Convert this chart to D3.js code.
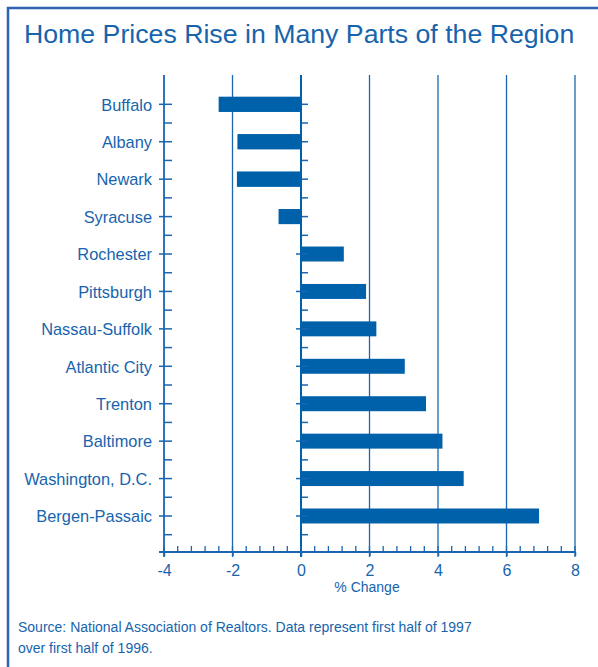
<!DOCTYPE html>
<html>
<head>
<meta charset="utf-8">
<script src="https://cdn.jsdelivr.net/npm/d3@7"></script>
<style>
    body { margin: 0; background: #fff; }
    text { font-family: "Liberation Sans", Arial, sans-serif; fill: #1764ad; }
</style>
</head>
<body>
<svg width="598" height="667"></svg>
<script>
// data
let cities = [
    'Buffalo', 'Albany', 'Newark', 'Syracuse', 'Rochester', 'Pittsburgh',
    'Nassau-Suffolk', 'Atlantic City', 'Trenton', 'Baltimore',
    'Washington, D.C.', 'Bergen-Passaic'
];
let changes = [-2.4, -1.85, -1.87, -0.65, 1.25, 1.9, 2.2, 3.03, 3.65, 4.13, 4.75, 6.95];
let xTicks = [-4, -2, 0, 2, 4, 6, 8];
let gridValues = [-2, 2, 4, 6, 8];

function main() {
    let svg = d3.select('svg');
    let blue = '#0061ab',
        lineBlue = '#1a66b0';

    let data = cities.map((c, i) => ({ city: c, value: changes[i] }));

    //Scales
    let xScale = d3.scaleLinear().domain([-4, 8]).range([164, 575]),
        yScale = d3
            .scaleBand()
            .domain(cities)
            .range([85.6, 534.7])
            .paddingInner(0.6)
            .paddingOuter(0.3);
    let plotTop = 75,
        axisY = 552;

    //Frame
    svg.append('path')
        .attr('d', 'M8,667 L8,8 L598,8')
        .attr('fill', 'none')
        .attr('stroke', '#2f62b2')
        .attr('stroke-width', 2.5);

    //Title
    svg.append('text')
        .attr('x', 24)
        .attr('y', 43)
        .style('font-size', '26.7px')
        .text('Home Prices Rise in Many Parts of the Region');

    //Gridlines
    svg.append('g')
        .selectAll('line')
        .data(gridValues)
        .enter()
        .append('line')
        .attr('x1', (d) => xScale(d))
        .attr('x2', (d) => xScale(d))
        .attr('y1', plotTop)
        .attr('y2', axisY + 5)
        .attr('stroke', lineBlue)
        .attr('stroke-width', 1.3);

    //Bars
    svg.selectAll('rect.bar')
        .data(data)
        .enter()
        .append('rect')
        .attr('class', 'bar')
        .attr('x', (d) => xScale(Math.min(0, d.value)))
        .attr('y', (d) => yScale(d.city))
        .attr('width', (d) => Math.abs(xScale(d.value) - xScale(0)))
        .attr('height', yScale.bandwidth())
        .attr('fill', blue);

    //Ticks along the zero line
    let zero = xScale(0);
    let bounds = d3.range(1, cities.length + 1).map(
        (i) => yScale.range()[0] + i * yScale.step()
    );
    let zg = svg.append('g').attr('stroke', lineBlue).attr('stroke-width', 1.5);
    zg.selectAll('line.maj')
        .data(cities)
        .enter()
        .append('line')
        .attr('x1', zero - 5)
        .attr('x2', zero + 7)
        .attr('y1', (d) => yScale(d) + yScale.bandwidth() / 2)
        .attr('y2', (d) => yScale(d) + yScale.bandwidth() / 2);
    zg.selectAll('line.min')
        .data(bounds)
        .enter()
        .append('line')
        .attr('x1', zero)
        .attr('x2', zero + 7)
        .attr('y1', (d) => d)
        .attr('y2', (d) => d);
    svg.append('line')
        .attr('x1', zero)
        .attr('x2', zero)
        .attr('y1', plotTop)
        .attr('y2', axisY + 5)
        .attr('stroke', blue)
        .attr('stroke-width', 2);
    // negative bars again, over the left tick stubs
    svg.selectAll('rect.neg')
        .data(data.filter((d) => d.value < 0))
        .enter()
        .append('rect')
        .attr('x', (d) => xScale(d.value))
        .attr('y', (d) => yScale(d.city))
        .attr('width', (d) => xScale(0) - xScale(d.value))
        .attr('height', yScale.bandwidth())
        .attr('fill', blue);

    //Y Axis
    let yAxis = svg.append('g')
        .attr('transform', 'translate(' + xScale(-4) + ',0)')
        .call(d3.axisLeft(yScale).tickSize(5).tickPadding(7));
    yAxis.select('.domain').remove();
    yAxis.selectAll('.tick line')
        .attr('x2', 8)
        .attr('x1', -5)
        .attr('stroke', lineBlue)
        .attr('stroke-width', 1.5);
    yAxis.selectAll('.tick text')
        .attr('dy', '0.38em')
        .style('font-size', '16.4px')
        .style('font-family', '"Liberation Sans", Arial, sans-serif')
        .attr('fill', '#1764ad');
    yAxis.selectAll('line.min')
        .data(bounds)
        .enter()
        .append('line')
        .attr('x1', 0)
        .attr('x2', 8)
        .attr('y1', (d) => d)
        .attr('y2', (d) => d)
        .attr('stroke', lineBlue)
        .attr('stroke-width', 1.5);
    yAxis.append('line')
        .attr('x1', 0)
        .attr('x2', 0)
        .attr('y1', plotTop)
        .attr('y2', axisY + 5)
        .attr('stroke', lineBlue)
        .attr('stroke-width', 1.8);

    //X Axis
    let xAxis = svg.append('g')
        .attr('transform', 'translate(0,' + axisY + ')')
        .call(
            d3.axisBottom(xScale)
                .tickValues(xTicks)
                .tickSize(4)
                .tickPadding(9)
                .tickFormat((d) => String(d))
        );
    xAxis.select('.domain').remove();
    xAxis.selectAll('.tick line').attr('stroke', lineBlue).attr('stroke-width', 1.5);
    xAxis.selectAll('.tick text')
        .style('font-size', '16px')
        .style('font-family', '"Liberation Sans", Arial, sans-serif')
        .attr('fill', '#1764ad');
    xAxis.append('line')
        .attr('x1', xScale(-4) - 5)
        .attr('x2', xScale(8))
        .attr('y1', 0)
        .attr('y2', 0)
        .attr('stroke', lineBlue)
        .attr('stroke-width', 2);
    xAxis.selectAll('line.minor')
        .data(d3.range(-4, 8.001, 0.4))
        .enter()
        .append('line')
        .attr('x1', (d) => xScale(d))
        .attr('x2', (d) => xScale(d))
        .attr('y1', 0)
        .attr('y2', -6)
        .attr('stroke', lineBlue)
        .attr('stroke-width', 1.3);
    svg.append('text')
        .attr('x', 367)
        .attr('y', 592)
        .attr('text-anchor', 'middle')
        .style('font-size', '14px')
        .text('% Change');

    //Source
    svg.append('text')
        .attr('x', 18)
        .attr('y', 632)
        .style('font-size', '14px')
        .text('Source: National Association of Realtors. Data represent first half of 1997');
    svg.append('text')
        .attr('x', 18)
        .attr('y', 653)
        .style('font-size', '14px')
        .text('over first half of 1996.');
}

main();
</script>
</body>
</html>
